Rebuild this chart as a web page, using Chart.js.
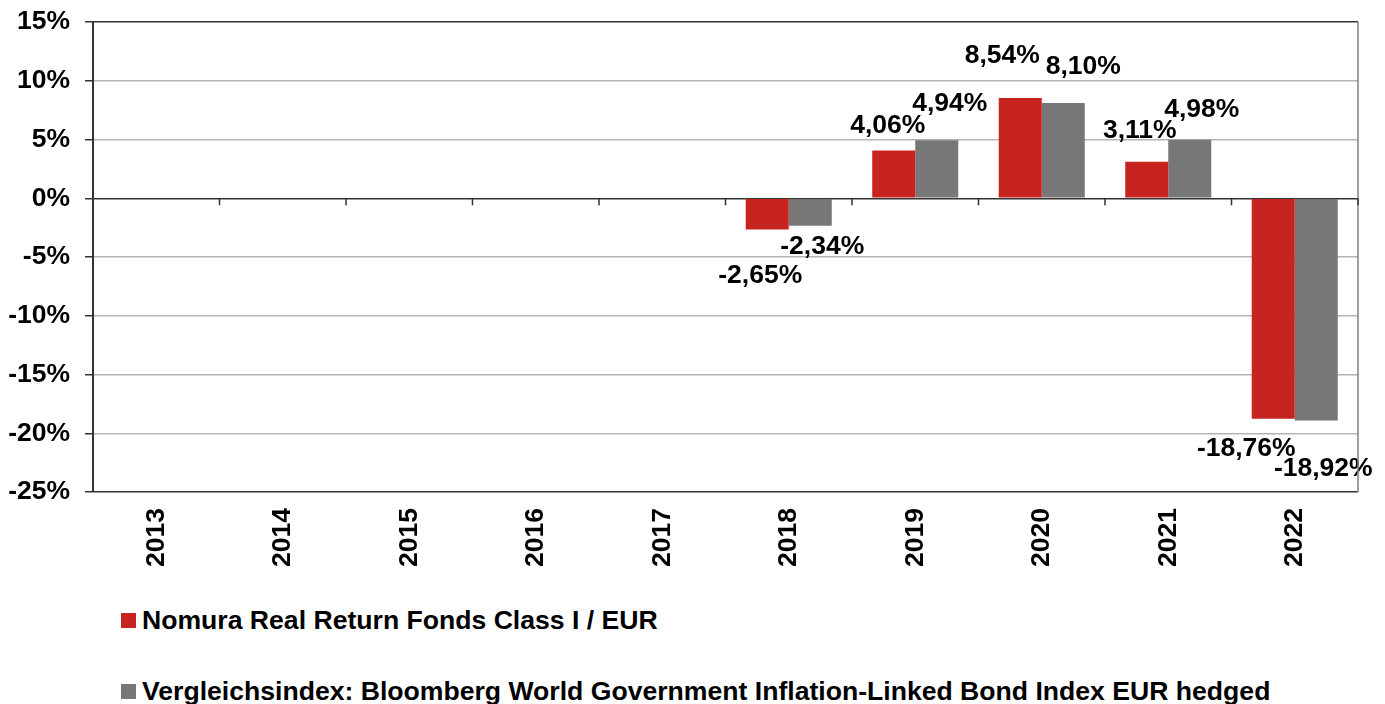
<!DOCTYPE html>
<html>
<head>
<meta charset="utf-8">
<script src="https://cdn.jsdelivr.net/npm/chart.js@4/dist/chart.umd.min.js"></script>
<style>
  body { margin: 0; background: #fff; font-family: 'Liberation Sans', Arial, sans-serif; }
  #wrap { position: relative; width: 1385px; height: 704px; }
  #box { position: absolute; left: 0; top: 0; width: 1385px; height: 580px; }
  .leg { position: absolute; left: 121px; font-weight: bold; font-size: 26.6px; line-height: 30px; color: #000; white-space: nowrap; }
  .leg i { display: inline-block; width: 15px; height: 15px; margin-right: 6px; vertical-align: 1px; }
</style>
</head>
<body>
<div id="wrap">
  <div id="box"><canvas id="bar-chart"></canvas></div>
  <div class="leg" style="top:605px"><i style="background:#c8241f"></i>Nomura Real Return Fonds Class I / EUR</div>
  <div class="leg" style="top:676px"><i style="background:#777777"></i>Vergleichsindex: Bloomberg World Government Inflation-Linked Bond Index EUR hedged</div>
</div>
<script>
const years = ['2013', '2014', '2015', '2016', '2017', '2018', '2019', '2020', '2021', '2022'];
const fund = [null, null, null, null, null, -2.65, 4.06, 8.54, 3.11, -18.76];
const benchmark = [null, null, null, null, null, -2.34, 4.94, 8.10, 4.98, -18.92];
const yTicks = [-25, -20, -15, -10, -5, 0, 5, 10, 15];

const FONT = "'Liberation Sans', Arial, sans-serif";
const FSIZE = 26.5;

// label nudges per dataset (dx from bar centre, distance of text centre from bar end)
const nudges = [
  [[0, 0], [0, 0], [0, 0], [0, 0], [0, 0], [-7, 46], [-6, 25], [-18, 42], [-7, 31], [-27, 30]],
  [[0, 0], [0, 0], [0, 0], [0, 0], [0, 0], [12, 21], [13, 37], [20, 36], [12, 30], [7, 48]],
];

const valueLabels = {
  id: 'valueLabels',
  afterDatasetsDraw(chart) {
    const ctx = chart.ctx;
    ctx.save();
    ctx.font = 'bold ' + FSIZE + 'px ' + FONT;
    ctx.fillStyle = '#000';
    ctx.textAlign = 'center';
    ctx.textBaseline = 'middle';
    chart.data.datasets.forEach((ds, di) => {
      chart.getDatasetMeta(di).data.forEach((bar, i) => {
        const v = ds.data[i];
        if (v == null) return;
        const [dx, gap] = nudges[di][i];
        const y = v >= 0 ? bar.y - gap : bar.y + gap;
        ctx.fillText(v.toFixed(2).replace('.', ',') + '%', bar.x + dx, y);
      });
    });
    ctx.restore();
  },
};

const frame = {
  id: 'frame',
  afterDraw(chart) {
    const ctx = chart.ctx;
    const a = chart.chartArea;
    const x = chart.scales.x;
    const y0 = chart.scales.y.getPixelForValue(0);
    ctx.save();
    ctx.strokeStyle = '#808080';
    ctx.lineWidth = 1.5;
    ctx.beginPath();
    ctx.moveTo(a.right, a.top);
    ctx.lineTo(a.right, a.bottom);
    ctx.stroke();
    ctx.strokeStyle = '#333';
    ctx.beginPath();
    for (let i = 1; i <= years.length; i++) {
      const px = i < years.length
        ? (x.getPixelForValue(i - 1) + x.getPixelForValue(i)) / 2
        : a.right;
      ctx.moveTo(px, y0);
      ctx.lineTo(px, y0 + 7);
    }
    ctx.stroke();
    ctx.restore();
  },
};

new Chart(
  document.getElementById('bar-chart'),
  {
    type: 'bar',
    data: {
      labels: years,
      datasets: [
        {
          label: 'Nomura Real Return Fonds Class I / EUR',
          data: fund,
          backgroundColor: '#c8241f',
          categoryPercentage: 0.68,
          barPercentage: 1,
        },
        {
          label: 'Vergleichsindex: Bloomberg World Government Inflation-Linked Bond Index EUR hedged',
          data: benchmark,
          backgroundColor: '#777777',
          categoryPercentage: 0.68,
          barPercentage: 1,
        },
      ],
    },
    options: {
      responsive: true,
      maintainAspectRatio: false,
      animation: false,
      layout: { padding: { top: 22, right: 27, left: 0, bottom: 0 } },
      plugins: {
        legend: { display: false },
        tooltip: { enabled: false },
      },
      scales: {
        x: {
          grid: { display: false, drawTicks: false },
          border: { display: false },
          ticks: {
            color: '#000',
            font: { family: FONT, size: FSIZE, weight: 'bold' },
            minRotation: 90,
            maxRotation: 90,
            padding: 16,
          },
          afterFit(scale) {
            scale.height = 88;
            scale.paddingLeft = 0;
            scale.paddingRight = 0;
          },
        },
        y: {
          min: -25,
          max: 15,
          afterBuildTicks(scale) { scale.ticks = yTicks.map(v => ({ value: v })); },
          grid: {
            color: c => (c.tick.value === 0 || c.tick.value === 15 || c.tick.value === -25) ? '#333' : '#b4b4b4',
            lineWidth: 1.5,
            tickLength: 8,
            tickColor: '#333',
          },
          border: { color: '#333', width: 2 },
          ticks: {
            color: '#000',
            font: { family: FONT, size: FSIZE, weight: 'bold' },
            padding: 15,
            callback: v => v + '%',
          },
          afterFit(scale) {
            scale.width = 93;
            scale.paddingTop = 0;
            scale.paddingBottom = 0;
          },
        },
      },
    },
    plugins: [valueLabels, frame],
  }
);
</script>
</body>
</html>
